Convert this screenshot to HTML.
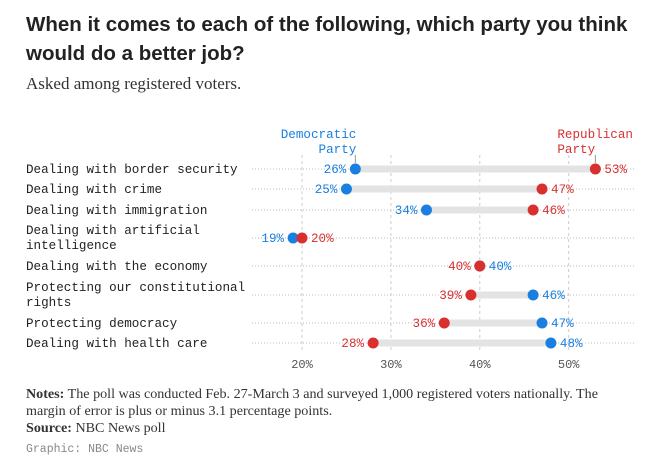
<!DOCTYPE html>
<html><head><meta charset="utf-8">
<style>
body{margin:0;background:#fff;width:648px;height:475px;overflow:hidden;font-family:"Liberation Sans",sans-serif}
.t{position:absolute;left:26px;top:10px;font-weight:bold;font-size:20.5px;line-height:29px;color:#222;width:610px}
.s{position:absolute;left:26px;top:74px;font-family:"Liberation Serif",serif;font-size:17px;color:#333}
.n{position:absolute;left:26px;top:386px;font-family:"Liberation Serif",serif;font-size:14.1px;line-height:17px;color:#333;width:612px}
.g{position:absolute;left:26px;top:443px;font-family:"Liberation Mono",monospace;font-size:11.5px;color:#888}
svg{position:absolute;left:0;top:0}
</style></head><body>
<div class="t">When it comes to each of the following, which party you think would do a better job?</div>
<div class="s">Asked among registered voters.</div>
<svg width="648" height="475" id="c"></svg>
<div class="n"><b>Notes:</b> The poll was conducted Feb. 27-March 3 and surveyed 1,000 registered voters nationally. The margin of error is plus or minus 3.1 percentage points.<br><b>Source:</b> NBC News poll</div>
<div class="g">Graphic: NBC News</div>
<script>
const categories=[["Dealing with border security"],["Dealing with crime"],["Dealing with immigration"],["Dealing with artificial","intelligence"],["Dealing with the economy"],["Protecting our constitutional","rights"],["Protecting democracy"],["Dealing with health care"]];
const demValues=[26,25,34,19,40,46,47,48];
const repValues=[53,47,46,20,40,39,36,28];
const ticks=[20,30,40,50];
const rowY=[169,189,210,238,266,295,323,343];
const svg=document.getElementById('c');
const NS='http://www.w3.org/2000/svg';
const x=v=>302+(v-20)*8.89;
function mk(t,a,txt){const e=document.createElementNS(NS,t);for(const k in a)e.setAttribute(k,a[k]);if(txt!=null)e.textContent=txt;svg.appendChild(e);return e;}
const BLUE='#1a7fe0',RED='#d8302f',MONO='"Liberation Mono",monospace',FS=12.6;
ticks.forEach(t=>{
 const l=mk('line',{x1:x(t),x2:x(t),y1:155,y2:352,stroke:'#ccc','stroke-dasharray':'3,3'});
 
 
 const tx=mk('text',{x:x(t),y:368,'text-anchor':'middle','font-family':MONO,'font-size':12,fill:'#555'},t+'%');
 
 
});
categories.forEach((c,i)=>{
 const y=rowY[i];
 const rl=mk('line',{x1:252,x2:635,y1:y,y2:y,stroke:'#bbb','stroke-dasharray':'1,2'});
 
 
 const ty=c.length>1?y-4:y+4;
 c.forEach((s,j)=>{const lb=mk('text',{x:26,y:ty+j*15,'font-family':MONO,'font-size':FS,fill:'#222'},s);
  
  });
 const d=demValues[i],r=repValues[i];
 const b=mk('line',{x1:x(d),x2:x(r),y1:y,y2:y,stroke:'#e3e3e3','stroke-width':7});
 
 
 const dc=mk('circle',{cx:x(d),cy:y,r:5.5,fill:BLUE});
 
 
 const rc=mk('circle',{cx:x(r),cy:y,r:5.5,fill:RED});
 
 
 const demLeft=d<r;
 const dl=mk('text',{x:demLeft?x(d)-9:x(d)+9,y:y+4,'text-anchor':demLeft?'end':'start','font-family':MONO,'font-size':FS,fill:BLUE},d+'%');
 
 
 const rlb=mk('text',{x:demLeft?x(r)+9:x(r)-9,y:y+4,'text-anchor':demLeft?'start':'end','font-family':MONO,'font-size':FS,fill:RED},r+'%');
 
 
});
const h1=mk('text',{x:x(demValues[0])+1,y:138,'text-anchor':'end','font-family':MONO,'font-size':FS,fill:BLUE},'Democratic');


const h1b=mk('text',{x:x(demValues[0])+1,y:153,'text-anchor':'end','font-family':MONO,'font-size':FS,fill:BLUE},'Party');


const h2=mk('text',{x:x(repValues[0])-38,y:138,'font-family':MONO,'font-size':FS,fill:RED},'Republican');


const h2b=mk('text',{x:x(repValues[0])-38,y:153,'font-family':MONO,'font-size':FS,fill:RED},'Party');


const p1=mk('line',{x1:x(demValues[0]),x2:x(demValues[0]),y1:155,y2:163,stroke:'#999'});


const p2=mk('line',{x1:x(repValues[0]),x2:x(repValues[0]),y1:155,y2:163,stroke:'#999'});


</script>
</body></html>
